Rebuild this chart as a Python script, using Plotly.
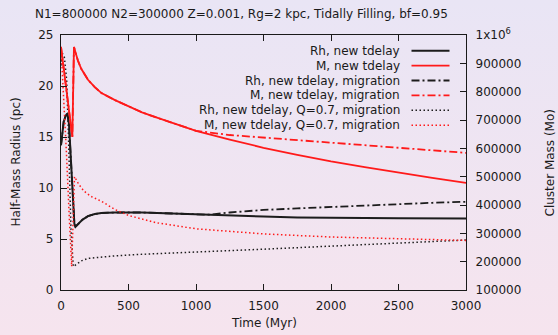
import base64
import plotly.graph_objects as go

# ---------------- data ----------------
# Rh, new tdelay (pc)
T_RH = [0, 10, 20, 35, 47, 59, 70, 80, 90, 99, 107, 130, 160, 200, 250, 300, 400,
        600, 800, 1000, 1250, 1500, 1750, 2000, 2500, 3000]
RH = [14.2, 15.6, 16.5, 17.1, 17.3, 16.3, 13.5, 10.5, 8.0, 6.5, 6.2, 6.5, 6.9, 7.25,
      7.45, 7.55, 7.6, 7.6, 7.5, 7.4, 7.3, 7.2, 7.12, 7.08, 7.03, 7.0]

# Rh, new tdelay, migration: diverges from the above after ~1000 Myr
T_RH_MIG_TAIL = [1100, 1250, 1500, 1750, 2000, 2250, 2500, 2750, 3000]
RH_MIG_TAIL = [7.38, 7.6, 7.85, 8.0, 8.15, 8.3, 8.4, 8.55, 8.65]

# M, new tdelay (Msun)
T_M = [0, 84, 96, 110, 125, 150, 175, 200, 250, 300, 400, 500, 600, 700, 800, 900,
       1000, 1250, 1500, 1750, 2000, 2250, 2500, 2750, 3000]
M = [958000, 640000, 958000, 932000, 910000, 881000, 860000, 842000, 816000, 795000,
     770000, 748000, 727000, 710000, 694000, 678000, 662000, 631000, 602000, 577000,
     554000, 534000, 514000, 496000, 478000]

# M, new tdelay, migration: diverges after ~1000 Myr
T_M_MIG_TAIL = [1250, 1500, 1750, 2000, 2250, 2500, 2750, 3000]
M_MIG_TAIL = [647000, 638000, 629000, 620000, 611000, 602000, 593000, 584000]

# Rh, new tdelay, Q=0.7, migration (pc)
T_RH_Q = [0, 10, 25, 42, 54, 65, 74, 91, 120, 150, 200, 300, 400, 600, 800, 1000,
          1500, 2000, 2500, 3000]
RH_Q = [22.0, 23.2, 22.8, 20.6, 15.7, 10.0, 5.9, 2.3, 2.6, 2.85, 3.1, 3.25, 3.35, 3.5,
        3.6, 3.7, 4.0, 4.3, 4.6, 4.9]

# M, new tdelay, Q=0.7, migration (Msun)
T_M_Q = [0, 20, 40, 60, 79, 100, 130, 170, 220, 300, 400, 500, 700, 1000, 1500, 2000,
         2500, 3000]
M_Q = [958000, 784000, 586000, 370000, 183000, 500000, 474000, 449000, 431000, 413000,
       384000, 363000, 338000, 316000, 298000, 287000, 280000, 275000]

LEGEND_NAMES = ["Rh, new tdelay", "M, new tdelay", "Rh, new tdelay, migration",
                "M, new tdelay, migration", "Rh, new tdelay, Q=0.7, migration",
                "M, new tdelay, Q=0.7, migration"]

X_TICKS = [0, 500, 1000, 1500, 2000, 2500, 3000]
Y_TICKS = [0, 5, 10, 15, 20, 25]
Y2_TICKS = [100000, 200000, 300000, 400000, 500000, 600000, 700000, 800000, 900000, 1000000]
Y2_TEXT = ["100000", "200000", "300000", "400000", "500000", "600000", "700000",
           "800000", "900000", "1x10<sup>6</sup>"]

TITLE = "N1=800000 N2=300000 Z=0.001, Rg=2 kpc, Tidally Filling, bf=0.95"

# ---------------- build ----------------
W, H = 558, 335
L, R, TOP, B = 61, 92, 35, 45
PW, PH = W - L - R, H - TOP - B

BLACK = "#1c1c1c"
RED = "#ff1a1a"
DASHDOT = "8px,3px,2px,3px"
DOT = "1.5px,2.5px"

def cut(t, v, tmax):
    idx = [i for i, x in enumerate(t) if x <= tmax]
    return [t[i] for i in idx], [v[i] for i in idx]

t_a, v_a = cut(T_RH, RH, 1000)
T_RH_MIG = t_a + T_RH_MIG_TAIL
RH_MIG = v_a + RH_MIG_TAIL
t_b, v_b = cut(T_M, M, 1000)
T_M_MIG = t_b + T_M_MIG_TAIL
M_MIG = v_b + M_MIG_TAIL

series = [
    (T_RH, RH, "y", BLACK, 2.0, "solid"),
    (T_M, M, "y2", RED, 1.8, "solid"),
    (T_RH_MIG, RH_MIG, "y", BLACK, 1.8, DASHDOT),
    (T_M_MIG, M_MIG, "y2", RED, 1.8, DASHDOT),
    (T_RH_Q, RH_Q, "y", BLACK, 1.5, DOT),
    (T_M_Q, M_Q, "y2", RED, 1.5, DOT),
]

fig = go.Figure()
for (t, v, ax, col, w, dash), name in zip(series, LEGEND_NAMES):
    fig.add_trace(go.Scatter(x=t, y=v, yaxis=ax, mode="lines", name=name,
                             line=dict(color=col, width=w, dash=dash),
                             showlegend=False))

FONT = dict(family="DejaVu Sans", size=12, color="#1a1a1a")

svg = ('<svg xmlns="http://www.w3.org/2000/svg" width="%d" height="%d">'
       '<defs><linearGradient id="g" x1="0" y1="0" x2="0" y2="1">'
       '<stop offset="0" stop-color="#e9e5f5"/><stop offset="1" stop-color="#f6e4ee"/>'
       '</linearGradient></defs><rect width="%d" height="%d" fill="url(#g)"/></svg>'
       % (W, H, W, H))
src = "data:image/svg+xml;base64," + base64.b64encode(svg.encode()).decode()

annotations = [
    dict(text=TITLE, xref="paper", yref="paper", x=(241.5 - L) / PW, y=1 + (TOP - 14) / PH,
         xanchor="center", yanchor="middle", showarrow=False, font=FONT),
    dict(text="Half-Mass Radius (pc)", xref="paper", yref="paper", x=(15 - L) / PW, y=0.5,
         textangle=-90, xanchor="center", yanchor="middle", showarrow=False, font=FONT),
    dict(text="Cluster Mass (Mo)", xref="paper", yref="paper", x=(549 - L) / PW, y=0.5,
         textangle=-90, xanchor="center", yanchor="middle", showarrow=False, font=FONT),
    dict(text="Time (Myr)", xref="paper", yref="paper", x=0.5, y=-(323 - TOP - PH) / PH,
         xanchor="center", yanchor="middle", showarrow=False, font=FONT),
]
shapes = []
for i, ((t, v, ax, col, w, dash), name) in enumerate(zip(series, LEGEND_NAMES)):
    ypx = 50.7 + i * 14.9
    yp = (TOP + PH - ypx) / PH
    annotations.append(dict(text=name, xref="paper", yref="paper", x=(402 - L) / PW, y=yp,
                            xanchor="right", yanchor="middle", showarrow=False, font=FONT))
    shapes.append(dict(type="line", xref="paper", yref="paper",
                       x0=(411.5 - L) / PW, x1=(449.5 - L) / PW, y0=yp, y1=yp,
                       line=dict(color=col, width=w, dash=dash)))

axis_common = dict(showgrid=False, zeroline=False, showline=True, linecolor="#1a1a1a",
                   linewidth=1.3, ticks="inside", ticklen=6, tickcolor="#1a1a1a",
                   tickwidth=1, tickfont=FONT)

fig.update_layout(
    width=W, height=H,
    margin=dict(l=L, r=R, t=TOP, b=B, pad=0),
    paper_bgcolor="#efe4f2", plot_bgcolor="rgba(0,0,0,0)",
    font=FONT,
    xaxis=dict(range=[0, 3000], tickvals=X_TICKS, mirror="ticks",
               ticklabelstandoff=4, **axis_common),
    yaxis=dict(range=[0, 25], tickvals=Y_TICKS, ticklabelstandoff=4, **axis_common),
    yaxis2=dict(range=[100000, 1000000], tickvals=Y2_TICKS, ticktext=Y2_TEXT,
                overlaying="y", side="right", ticklabelstandoff=6, **axis_common),
    images=[dict(source=src, xref="paper", yref="paper", x=-L / PW, y=1 + TOP / PH,
                 sizex=W / PW, sizey=H / PH, sizing="stretch", xanchor="left",
                 yanchor="top", layer="below")],
    annotations=annotations,
    shapes=shapes,
    showlegend=False,
)

fig.write_html("out.html")
